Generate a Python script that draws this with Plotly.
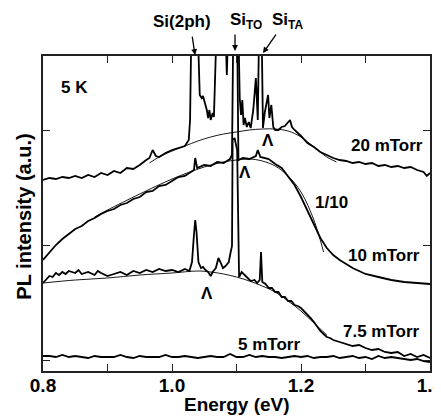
import plotly.graph_objects as go

FONT = "Liberation Sans"

# ---------------- data (PL intensity, arbitrary units) ----------------
e_5 = [round(0.80 + 0.01 * i, 2) for i in range(61)]
i_5 = [4, 4, 3, 5, 3, 4, 3, 2, 4, 3,
       3, 3, 5, 3, 2, 4, 3, 3, 3, 5,
       3, 3, 4, 3, 2, 3, 4, 3, 3, 6,
       3, 3, 5, 3, 4, 3, 3, 2, 3, 4,
       3, 4, 2, 3, 3, 4, 2, 3, 4, 2,
       3, 1, 4, 2, 3, 2, 1, 0, 1, -1, -2]

e_75 = [0.800, 0.805, 0.81, 0.815, 0.82, 0.825, 0.83, 0.835, 0.84, 0.85, 0.855, 0.86, 0.87, 0.88,
        0.885, 0.89, 0.90, 0.91, 0.92, 0.93, 0.94, 0.95, 0.96, 0.97, 0.98, 0.99, 1.00, 1.01, 1.02,
        1.027, 1.031, 1.034, 1.036, 1.038, 1.041, 1.045, 1.048, 1.052, 1.056, 1.060, 1.063, 1.068,
        1.072, 1.075, 1.079, 1.083, 1.088, 1.091, 1.093, 1.094, 1.097, 1.101, 1.104, 1.108, 1.113,
        1.118, 1.122, 1.128, 1.132, 1.136, 1.138, 1.140, 1.145, 1.15, 1.155, 1.16, 1.165, 1.17,
        1.175, 1.18, 1.185, 1.19, 1.195, 1.20, 1.205, 1.21, 1.215, 1.22, 1.225, 1.23, 1.235, 1.24,
        1.245, 1.25, 1.26, 1.27, 1.28, 1.29, 1.30, 1.31, 1.32, 1.33, 1.34, 1.35, 1.36, 1.37, 1.38,
        1.39, 1.40]
i_75 = [77, 81, 84, 83, 87, 85, 88, 86, 89, 87, 90, 86, 88, 85,
        89, 87, 84, 86, 88, 85, 89, 87, 90, 88, 91, 89, 90, 88, 91,
        89, 98, 125, 140, 128, 98, 92, 93, 90, 88, 84, 88, 92,
        102, 98, 92, 94, 98, 108, 114, 220, 222, 210, 83, 88, 85,
        82, 79, 80, 77, 80, 108, 78, 76, 72, 72, 68, 68, 63,
        63, 59, 59, 55, 54, 52, 49, 46, 42, 38, 33, 29, 26, 23,
        22, 20, 18, 16, 14, 15, 12, 10, 11, 8, 7, 8, 4, 6, 3,
        5, 2]

e_10 = [0.80, 0.81, 0.82, 0.83, 0.84, 0.85, 0.86, 0.87, 0.88, 0.89, 0.90, 0.91, 0.92, 0.93, 0.94,
        0.95, 0.96, 0.97, 0.98, 0.99, 1.00, 1.01, 1.02, 1.03, 1.034, 1.036, 1.039, 1.05, 1.06, 1.07,
        1.08, 1.09, 1.093, 1.095, 1.101, 1.103, 1.11, 1.12, 1.13, 1.133, 1.137, 1.15, 1.16, 1.17,
        1.18, 1.19, 1.20, 1.21, 1.22, 1.23, 1.24, 1.25, 1.26, 1.27, 1.28, 1.29, 1.30, 1.32, 1.34,
        1.36, 1.38, 1.40]
i_10 = [100, 108, 115, 121, 126, 131, 134, 139, 142, 146, 149, 151, 155, 157, 161,
        163, 168, 169, 174, 175, 179, 183, 184, 188, 190, 202, 192, 195, 194, 198,
        197, 201, 205, 330, 330, 200, 202, 201, 204, 210, 203, 201, 196, 192,
        184, 175, 163, 149, 135, 122, 112, 105, 100, 96, 92, 89, 86, 83, 80,
        78, 77, 76]

e_20 = [0.80, 0.81, 0.82, 0.83, 0.84, 0.85, 0.86, 0.87, 0.88, 0.89, 0.90, 0.91, 0.92, 0.93, 0.94,
        0.95, 0.96, 0.965, 0.97, 0.975, 0.98, 0.99, 1.00, 1.01, 1.02, 1.026, 1.028, 1.030, 1.040,
        1.043, 1.046, 1.048, 1.051, 1.054, 1.056, 1.058, 1.060, 1.063, 1.065, 1.067, 1.069, 1.083,
        1.085, 1.087, 1.103, 1.105, 1.107, 1.109, 1.111, 1.113, 1.116, 1.119, 1.122, 1.126, 1.130,
        1.133, 1.135, 1.139, 1.141, 1.144, 1.149, 1.151, 1.154, 1.157, 1.160, 1.165, 1.170, 1.175,
        1.180, 1.183, 1.186, 1.19, 1.20, 1.21, 1.22, 1.23, 1.24, 1.25, 1.26, 1.27, 1.28, 1.29, 1.30,
        1.31, 1.32, 1.33, 1.34, 1.35, 1.36, 1.37, 1.38, 1.39, 1.395, 1.40]
i_20 = [180, 182, 181, 183, 182, 184, 182, 185, 183, 187, 185, 189, 187, 192, 191,
        195, 200, 202, 210, 204, 203, 207, 210, 212, 214, 220, 240, 330, 330,
        265, 262, 264, 257, 250, 242, 250, 240, 247, 243, 280, 330, 330,
        285, 330, 330, 262, 245, 260, 235, 242, 233, 238, 232, 250, 282,
        240, 330, 330, 232, 248, 265, 242, 255, 233, 230, 230, 233, 234,
        238, 240, 233, 230, 224, 217, 213, 208, 205, 202, 200, 199, 197, 198, 196,
        197, 194, 195, 193, 194, 192, 193, 190, 188, 184, 187]

# smooth fitted curves
fe_75 = [0.80, 0.85, 0.90, 0.95, 1.00, 1.04, 1.06, 1.08, 1.10, 1.12, 1.14, 1.16, 1.18, 1.20, 1.22, 1.24]
fi_75 = [77, 80, 82, 85, 87, 89, 88, 86, 83, 79, 74, 68, 59, 49, 37, 25]
fe_10 = [0.88, 0.90, 0.95, 1.00, 1.05, 1.08, 1.10, 1.12, 1.14, 1.16, 1.18, 1.20, 1.22, 1.235]
fi_10 = [143, 150, 166, 181, 193, 198, 200, 201, 199, 194, 184, 168, 140, 108]
fe_20 = [0.965, 0.98, 1.00, 1.02, 1.04, 1.06, 1.08, 1.10, 1.12, 1.14, 1.16, 1.18, 1.20, 1.22, 1.24, 1.255]
fi_20 = [197, 203, 209, 214, 219, 223, 226, 228, 230, 231, 231, 229, 223, 213, 203, 198]

x_ticks = [0.8, 0.9, 1.0, 1.1, 1.2, 1.3, 1.4]
x_ticktext = ["0.8", "", "1.0", "", "1.2", "", "1.4"]
y_ticks = [0, 115, 230]

# ---------------- figure ----------------
fig = go.Figure()
for ex, iy in [(e_5, i_5), (e_75, i_75), (e_10, i_10), (e_20, i_20)]:
    fig.add_trace(go.Scatter(x=ex, y=iy, mode="lines",
                             line=dict(color="black", width=1.8), hoverinfo="skip"))
for ex, iy in [(fe_75, fi_75), (fe_10, fi_10), (fe_20, fi_20)]:
    fig.add_trace(go.Scatter(x=ex, y=iy, mode="lines",
                             line=dict(color="black", width=0.9, shape="spline"), hoverinfo="skip"))

ann = []
def txt(x, y, t, size=17, xanchor="center", yanchor="middle", xref="x", yref="y"):
    ann.append(dict(x=x, y=y, text="<b>" + t + "</b>", showarrow=False, xref=xref, yref=yref,
                    xanchor=xanchor, yanchor=yanchor,
                    font=dict(family=FONT, size=size, color="black")))

txt(0.8248, 273, "5 K", xanchor="left")
txt(1.392, 215, "20 mTorr", xanchor="right")
txt(1.2186, 158, "1/10", xanchor="left")
txt(1.3875, 105, "10 mTorr", xanchor="right")
txt(1.3875, 29, "7.5 mTorr", xanchor="right")
txt(1.1503, 16, "5 mTorr")
# carets
txt(1.1488, 220, "Λ", size=17)
txt(1.1131, 188, "Λ", size=17)
txt(1.0542, 67, "Λ", size=17)
# peak labels above the frame
txt(1.0155, 1.111, "Si(2ph)", yref="paper")
txt(1.0868, 1.111, "Si<sub>TO</sub>", xanchor="left", yref="paper")
txt(1.1519, 1.111, "Si<sub>TA</sub>", xanchor="left", yref="paper")
# axis titles
txt(0.5, -0.106, "Energy (eV)", size=19, xref="paper", yref="paper")
ann.append(dict(x=0, y=0.49, xref="paper", yref="paper", xshift=-19,
                text="<b>PL intensity (a.u.)</b>",
                textangle=-90, showarrow=False, xanchor="center", yanchor="middle",
                font=dict(family=FONT, size=20, color="black")))
# arrows
for hx, hy, ax, ay in [(1.0357, 1.003, -3, -20), (1.0977, 1.016, 0, -18), (1.1411, 1.0095, 14, -20)]:
    ann.append(dict(x=hx, y=hy, xref="x", yref="paper", text="", showarrow=True,
                    ax=ax, ay=ay, arrowhead=2, arrowsize=0.9, arrowwidth=1.3, arrowcolor="black"))

# the page body has an 8px default margin; margins are set so the plot lands where the reference has it
fig.update_layout(
    template="none",
    width=441, height=417,
    margin=dict(l=35, r=19, t=48, b=54, autoexpand=False),
    paper_bgcolor="white", plot_bgcolor="white",
    showlegend=False,
    annotations=ann,
    xaxis=dict(range=[0.8, 1.4], tickvals=x_ticks, ticktext=["<b>" + t + "</b>" if t else "" for t in x_ticktext],
               ticks="inside", ticklen=7, tickwidth=1.3, tickcolor="#222",
               showline=True, linewidth=2, linecolor="#222", mirror="ticks",
               showgrid=False, zeroline=False, automargin=False,
               ticklabeloverflow="allow", ticklabelstandoff=-4,
               tickfont=dict(family=FONT, size=19, color="black")),
    yaxis=dict(range=[-11, 304], tickvals=y_ticks, showticklabels=False,
               ticks="inside", ticklen=7, tickwidth=1.3, tickcolor="#222",
               showline=True, linewidth=2, linecolor="#222", mirror="ticks",
               showgrid=False, zeroline=False, automargin=False),
)

fig.write_html("out.html")
